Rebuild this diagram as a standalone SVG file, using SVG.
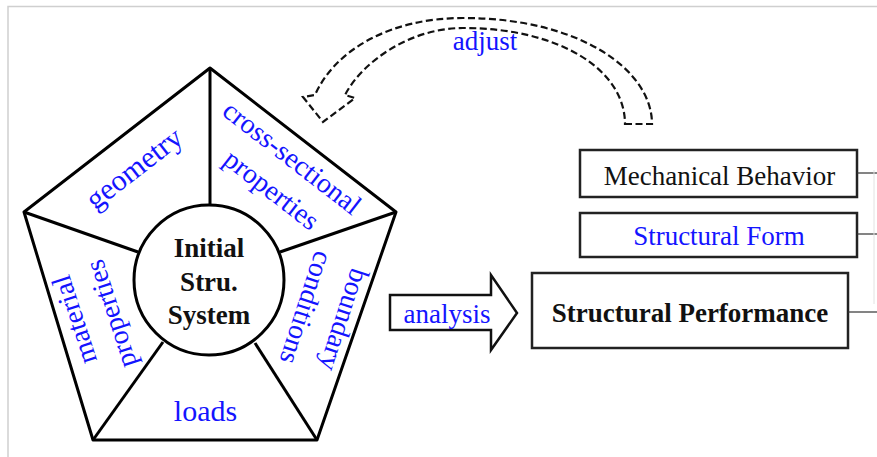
<svg xmlns="http://www.w3.org/2000/svg" width="877" height="457" viewBox="0 0 877 457">
  <style>
    text { font-family: "Liberation Serif", "Times New Roman", serif; }
    .lbl { fill: #1414ff; font-size: 28px; text-anchor: middle; }
    .blk { fill: #111; font-size: 27px; text-anchor: middle; }
    .bold { font-weight: bold; }
    .edge { fill: none; stroke: #000; stroke-width: 3; stroke-linejoin: round; }
    .box { fill: #fff; stroke: #222; stroke-width: 2.5; }
    .link { stroke: #333; stroke-width: 1.2; fill: none; }
  </style>

  <rect width="877" height="457" fill="#fff"/>
  <!-- frame -->
  <path d="M8,457 V6.5 H877" fill="none" stroke="#cfcfcf" stroke-width="1.5"/>

  <!-- pentagon of system components -->
  <g id="pentagon">
    <polygon class="edge" fill="#fff" points="210,68 396,212 317,440 93,440 24,212"/>
    <line class="edge" x1="210" y1="68" x2="210" y2="205"/>
    <line class="edge" x1="24" y1="212" x2="138" y2="252"/>
    <line class="edge" x1="396" y1="212" x2="280" y2="252"/>
    <line class="edge" x1="93" y1="440" x2="163" y2="342"/>
    <line class="edge" x1="317" y1="440" x2="255" y2="343"/>
  </g>

  <g id="geometry">
    <text class="lbl" transform="translate(140,176) rotate(-37.8)" style="font-size:30px">geometry</text>
  </g>
  <g id="cross-section">
    <text class="lbl" transform="translate(286.5,165) rotate(37.8)">cross-sectional</text>
    <text class="lbl" transform="translate(266,197) rotate(37.8)">properties</text>
  </g>
  <g id="material">
    <text class="lbl" transform="translate(83,317) rotate(-108)">material</text>
    <text class="lbl" transform="translate(119.6,311) rotate(-108)">properties</text>
  </g>
  <g id="boundary">
    <text class="lbl" transform="translate(335.3,317) rotate(108)">boundary</text>
    <text class="lbl" transform="translate(297.4,305) rotate(108)">conditions</text>
  </g>
  <g id="loads">
    <text class="lbl" x="205.5" y="421" style="font-size:30px">loads</text>
  </g>

  <g id="initial-system">
    <circle cx="209" cy="280" r="75" fill="#fff" stroke="#000" stroke-width="3"/>
    <text class="blk bold" x="209" y="257">Initial</text>
    <text class="blk bold" x="209" y="291">Stru.</text>
    <text class="blk bold" x="209" y="324">System</text>
  </g>

  <g id="analysis">
    <polygon points="390,295 491,295 491,275 517,313 491,350 491,330 390,330" fill="#fff" stroke="#111" stroke-width="2.5" stroke-linejoin="miter"/>
    <text class="lbl" x="447" y="323" style="font-size:27px">analysis</text>
  </g>

  <g id="adjust">
    <path d="M625,124 L652,124 C652,70 580,18 463,18 C390,18 335,50 315,95 L303,97 L323,122 L355,98 L345,95 C362,62 410,28 463,28 C560,28 625,70 625,124 Z"
          fill="none" stroke="#111" stroke-width="2.2" stroke-dasharray="7,3.5" stroke-linejoin="miter"/>
    <text class="lbl" x="485" y="50" style="font-size:27px">adjust</text>
  </g>

  <g id="mechanical-behavior">
    <rect class="box" x="580" y="150" width="277" height="47"/>
    <text class="blk" x="719.5" y="185">Mechanical Behavior</text>
  </g>
  <g id="structural-form">
    <rect class="box" x="580" y="213" width="277" height="44"/>
    <text class="lbl" x="719" y="245" style="font-size:27px">Structural Form</text>
  </g>
  <g id="structural-performance">
    <rect class="box" x="532" y="273" width="316" height="75"/>
    <text class="blk bold" x="690" y="322">Structural Performance</text>
  </g>

  <!-- links off the right edge -->
  <g id="connectors">
    <line class="link" x1="857" y1="173" x2="877" y2="173"/>
    <line class="link" x1="857" y1="234" x2="877" y2="234"/>
    <line class="link" x1="848" y1="312" x2="877" y2="312"/>
    <line x1="874" y1="170" x2="874" y2="304" stroke="#e2e2e2" stroke-width="1"/>
  </g>
</svg>
